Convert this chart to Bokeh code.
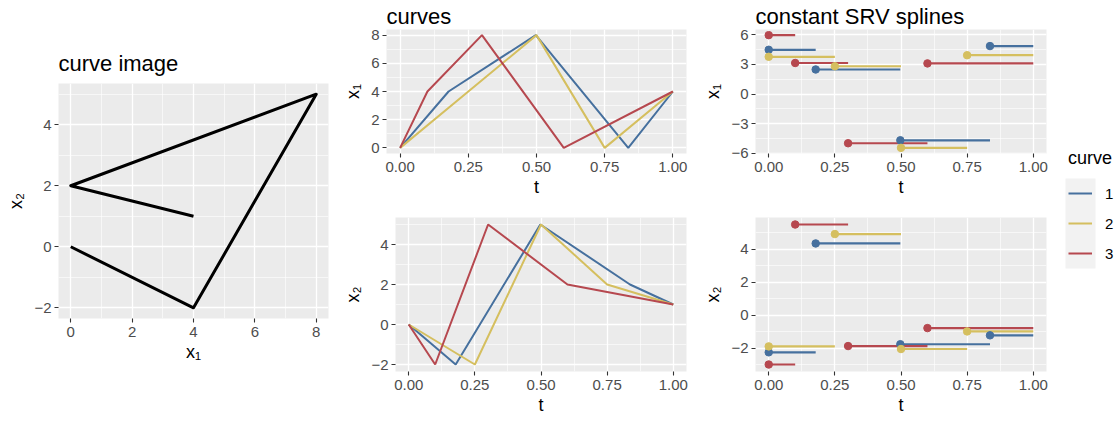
from bokeh.plotting import figure
from bokeh.layouts import row, column
from bokeh.models import (Range1d, FixedTicker, Legend, LegendItem,
                          BoxAnnotation, NumeralTickFormatter)
from bokeh.embed import file_html
from bokeh.resources import INLINE

# ---------------- data ----------------
img_x1 = [0, 4, 8, 0, 4]
img_x2 = [0, -2, 5, 2, 1]

curve_names = ["1", "2", "3"]
curve_colors = ["#46709e", "#d5bf5f", "#b6484f"]

t_curve1 = [0.0, 0.1775, 0.4975, 0.8364, 1.0]
t_curve2 = [0.0, 0.25, 0.5, 0.75, 1.0]
t_curve3 = [0.0, 0.1, 0.3, 0.6, 1.0]

srv1_x1 = [4.49, 2.49, -4.70, 4.87]
srv1_x2 = [-2.25, 4.36, -1.76, -1.22]
srv2_x1 = [3.78, 2.82, -5.47, 3.94]
srv2_x2 = [-1.89, 4.93, -2.05, -0.98]
srv3_x1 = [5.98, 3.15, -5.00, 3.11]
srv3_x2 = [-2.99, 5.51, -1.87, -0.78]

t_values = [t_curve1, t_curve2, t_curve3]
srv_x1 = [srv1_x1, srv2_x1, srv3_x1]
srv_x2 = [srv1_x2, srv2_x2, srv3_x2]

img_x_ticks = [0, 2, 4, 6, 8]
img_x_minor = [1, 3, 5, 7]
img_y_ticks = [-2, 0, 2, 4]
img_y_minor = [-1, 1, 3, 5]
t_ticks = [0, 0.25, 0.5, 0.75, 1]
t_minor = [0.125, 0.375, 0.625, 0.875]
cx1_ticks = [0, 2, 4, 6, 8]
cx1_minor = [1, 3, 5, 7]
cx2_ticks = [-2, 0, 2, 4]
cx2_minor = [-1, 1, 3, 5]
sx1_ticks = [-6, -3, 0, 3, 6]
sx1_minor = [-4.5, -1.5, 1.5, 4.5]
sx2_ticks = [-2, 0, 2, 4]
sx2_minor = [-3, -1, 1, 3, 5]

FONT = "Liberation Sans"
NAN = float("nan")


def expand(vals, mult=0.05):
    lo, hi = min(vals), max(vals)
    d = (hi - lo) * mult
    return Range1d(lo - d, hi + d)


def neg_overrides(ticks):
    return {v: ("\u2212" + str(abs(v))) for v in ticks if v < 0}


def style(p, xt, xm, yt, ym, xlab, ylab, tfmt=False):
    p.background_fill_color = "#EBEBEB"
    p.border_fill_color = "white"
    p.outline_line_color = None
    xtk = FixedTicker(ticks=xt, minor_ticks=xm)
    ytk = FixedTicker(ticks=yt, minor_ticks=ym)
    p.xaxis.ticker = xtk
    p.yaxis.ticker = ytk
    p.xgrid.ticker = xtk
    p.ygrid.ticker = ytk
    for g in (p.xgrid, p.ygrid):
        g.grid_line_color = "white"
        g.grid_line_width = 1.3
        g.minor_grid_line_color = "white"
        g.minor_grid_line_width = 0.6
    for ax in (p.xaxis, p.yaxis):
        ax.axis_line_color = None
        ax.major_tick_line_color = "#333333"
        ax.major_tick_line_width = 1.1
        ax.major_tick_out = 4
        ax.major_tick_in = 0
        ax.minor_tick_line_color = None
        ax.major_label_text_color = "#4D4D4D"
        ax.major_label_text_font = FONT
        ax.major_label_text_font_size = "15px"
        ax.axis_label_text_font = FONT
        ax.axis_label_text_font_size = "18px"
        ax.axis_label_text_font_style = "normal"
        ax.axis_label_text_color = "black"
    p.xaxis.major_label_standoff = 4
    p.xaxis.axis_label_standoff = 2
    p.yaxis.major_label_standoff = 3
    p.yaxis.axis_label_standoff = 5
    p.xaxis.axis_label = xlab
    p.yaxis.axis_label = ylab
    if tfmt:
        p.xaxis.formatter = NumeralTickFormatter(format="0.00")
    else:
        p.xaxis.major_label_overrides = neg_overrides(xt)
    p.yaxis.major_label_overrides = neg_overrides(yt)


def make_fig(w, h, l, r, t, b, xr, yr, title=None, standoff=6):
    p = figure(width=w, height=h, x_range=xr, y_range=yr,
               toolbar_location=None, output_backend="svg",
               min_border_left=l, min_border_right=r,
               min_border_top=t, min_border_bottom=b)
    if title:
        p.title.text = title
        p.title.text_font = FONT
        p.title.text_font_size = "22px"
        p.title.text_font_style = "normal"
        p.title.text_color = "black"
        p.title.text_line_height = 1.0
        p.title.align = "left"
        p.title.standoff = standoff
        p.title.offset = 0
    return p


# ---------------- curve image ----------------
pa = make_fig(335, 421, 58, 7, 83, 103, expand(img_x1), expand(img_x2),
              title="curve image", standoff=15)
style(pa, img_x_ticks, img_x_minor, img_y_ticks, img_y_minor, "x\u2081", "x\u2082")
pa.line(img_x1, img_x2, line_color="black", line_width=3, line_join="round")

# ---------------- curves ----------------
t_all = [v for tv in t_values for v in tv]
pb = make_fig(365, 199, 51, 14, 28, 46, expand(t_all), expand(img_x1),
              title="curves", standoff=2)
style(pb, t_ticks, t_minor, cx1_ticks, cx1_minor, "t", "x\u2081", tfmt=True)
pc = make_fig(365, 222, 60, 14, 18, 50, pb.x_range, expand(img_x2))
style(pc, t_ticks, t_minor, cx2_ticks, cx2_minor, "t", "x\u2082", tfmt=True)
for tv, col in zip(t_values, curve_colors):
    pb.line(tv, img_x1, line_color=col, line_width=2)
    pc.line(tv, img_x2, line_color=col, line_width=2)

# ---------------- constant SRV splines ----------------
all_q1 = [v for q in srv_x1 for v in q]
all_q2 = [v for q in srv_x2 for v in q]
pd_ = make_fig(354, 199, 54, 8, 28, 46, expand(t_all), expand(all_q1),
               title="constant SRV splines", standoff=2)
style(pd_, t_ticks, t_minor, sx1_ticks, sx1_minor, "t", "x\u2081", tfmt=True)
pe = make_fig(354, 222, 54, 8, 18, 50, pd_.x_range, expand(all_q2))
style(pe, t_ticks, t_minor, sx2_ticks, sx2_minor, "t", "x\u2082", tfmt=True)
for p, qs in ((pd_, srv_x1), (pe, srv_x2)):
    for tv, q, col in zip(t_values, qs, curve_colors):
        p.segment(x0=tv[:-1], y0=q, x1=tv[1:], y1=q, line_color=col, line_width=2.2)
    for tv, q, col in zip(t_values, qs, curve_colors):
        p.scatter(x=tv[:-1], y=q, size=7.5, fill_color=col, line_color=col)

# ---------------- legend ----------------
LW, LH = 66, 421
lg = figure(width=LW, height=LH, x_range=Range1d(0, LW), y_range=Range1d(LH, 0),
            toolbar_location=None, output_backend="svg", min_border=0,
            x_axis_type=None, y_axis_type=None)
lg.grid.visible = False
lg.outline_line_color = None
lg.background_fill_color = "white"
lg.border_fill_color = "white"
lg.add_layout(BoxAnnotation(left=11, right=41, top=178, bottom=268,
                            fill_color="#F2F2F2", fill_alpha=1, line_alpha=0))
# placeholder renderers (no visible marks) that only carry the legend styling
rends = [lg.line(x=[NAN], y=[NAN], line_color=c, line_width=2) for c in curve_colors]
legend = Legend(items=[LegendItem(label=n, renderers=[r]) for n, r in zip(curve_names, rends)],
                location=(14, LH - 268), title="curve", margin=0, padding=0, spacing=0,
                glyph_width=24, glyph_height=30, label_standoff=13, label_height=30,
                title_standoff=9, background_fill_alpha=0, border_line_alpha=0,
                label_text_font=FONT, label_text_font_size="15px", label_text_color="black",
                title_text_font=FONT, title_text_font_size="18px",
                title_text_font_style="normal", title_text_color="black")
lg.add_layout(legend)

# each figure wrapped on its own so that Bokeh does not align their frames
layout = row(column(pa),
             column(row(pb), row(pc)),
             column(row(pd_), row(pe)),
             column(lg))
open("out.html", "w").write(file_html(layout, INLINE))
